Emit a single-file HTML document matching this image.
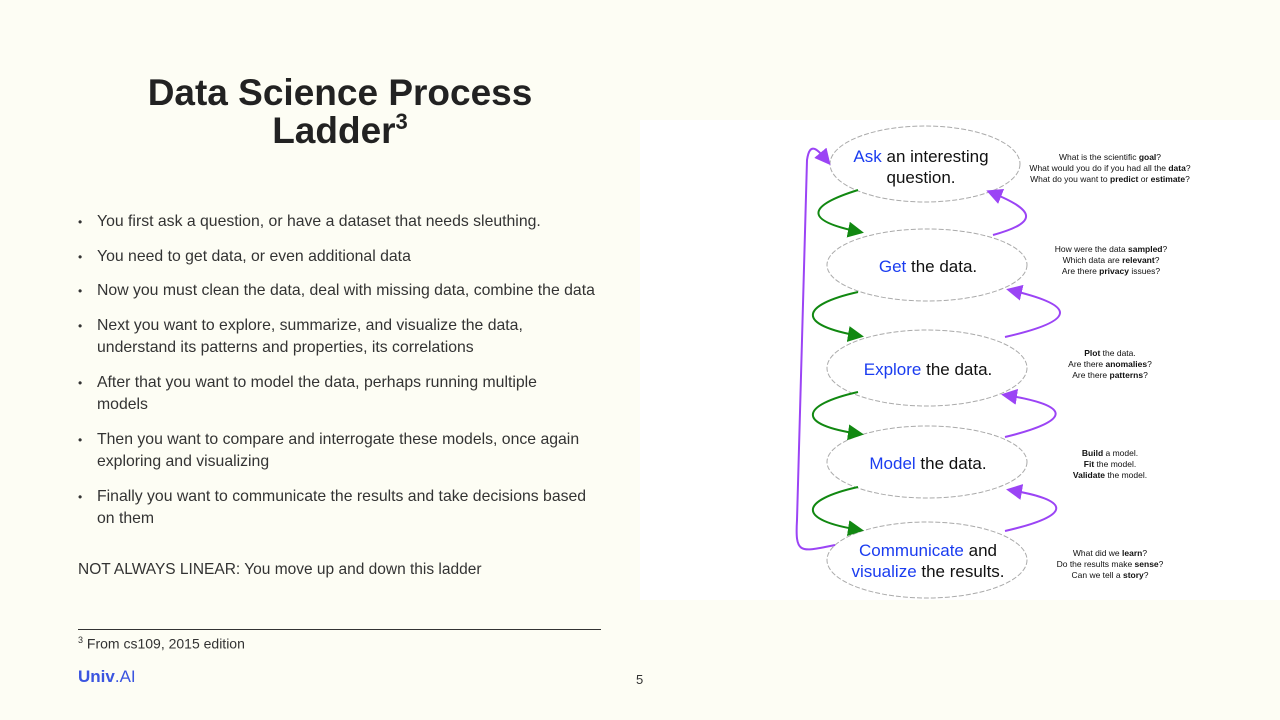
<!DOCTYPE html>
<html><head><style>
body{margin:0;width:1280px;height:720px;background:#fdfdf4;font-family:"Liberation Sans",sans-serif;position:relative;overflow:hidden;color:#333}
h1{position:absolute;left:100px;top:74px;width:480px;margin:0;text-align:center;font-size:37px;line-height:38px;font-weight:bold;color:#222}
h1 sup{font-size:22px;vertical-align:14px;line-height:0}
ul{position:absolute;left:78px;top:211px;width:526px;margin:0;padding:0;list-style:none;font-size:15.8px;line-height:22.5px;color:#333}
li{position:relative;padding-left:19px;margin-bottom:12px}
li:before{content:"•";position:absolute;left:0;font-size:12px}
.na{position:absolute;left:78px;top:561px;font-size:15.5px;color:#333}
.rule{position:absolute;left:78px;top:629px;width:523px;border-top:1px solid #333}
.fn{position:absolute;left:78px;top:635px;font-size:14px}
.fn sup{font-size:9px}
.logo{position:absolute;left:78px;top:667px;font-size:17px;font-weight:bold;color:#3b55e0}
.logo span{font-weight:normal}
.pg{position:absolute;left:636px;top:672px;font-size:13px}
.img{position:absolute;left:640px;top:120px;width:640px;height:480px;background:#fff}
</style></head><body>
<h1>Data Science Process Ladder<sup>3</sup></h1>
<ul>
<li>You first ask a question, or have a dataset that needs sleuthing.</li>
<li>You need to get data, or even additional data</li>
<li>Now you must clean the data, deal with missing data, combine the data</li>
<li>Next you want to explore, summarize, and visualize the data,<br>understand its patterns and properties, its correlations</li>
<li>After that you want to model the data, perhaps running multiple<br>models</li>
<li>Then you want to compare and interrogate these models, once again exploring and visualizing</li>
<li>Finally you want to communicate the results and take decisions based on them</li>
</ul>
<div class="na">NOT ALWAYS LINEAR: You move up and down this ladder</div>
<div class="rule"></div>
<div class="fn"><sup>3</sup> From cs109, 2015 edition</div>
<div class="logo">Univ<span>.AI</span></div>
<div class="pg">5</div>
<div class="img"></div>
<svg style="position:absolute;left:0;top:0" width="1280" height="720" font-family="Liberation Sans, sans-serif">
<defs>
<marker id="g" markerWidth="8" markerHeight="8" refX="6" refY="4" orient="auto"><path d="M0,0 L8,4 L0,8 z" fill="#118811"/></marker>
<marker id="p" markerWidth="8" markerHeight="8" refX="6" refY="4" orient="auto"><path d="M0,0 L8,4 L0,8 z" fill="#9b44f5"/></marker>
</defs>
<g fill="#fff" stroke="#aaa" stroke-width="1" stroke-dasharray="5,2">
<ellipse cx="925" cy="164" rx="95" ry="38"/>
<ellipse cx="927" cy="265" rx="100" ry="36"/>
<ellipse cx="927" cy="368" rx="100" ry="38"/>
<ellipse cx="927" cy="462" rx="100" ry="36"/>
<ellipse cx="927" cy="560" rx="100" ry="38"/>
</g>
<g fill="none" stroke="#118811" stroke-width="2" marker-end="url(#g)">
<path d="M858,190 C810,205 800,220 860,232"/>
<path d="M858,292 C800,305 795,325 860,336"/>
<path d="M858,392 C800,405 795,425 860,434"/>
<path d="M858,487 C800,500 795,520 860,530"/>
</g>
<g fill="none" stroke="#9b44f5" stroke-width="2" marker-end="url(#p)">
<path d="M993,235 C1040,222 1035,210 990,192"/>
<path d="M1005,337 C1080,320 1075,305 1010,290"/>
<path d="M1005,437 C1075,420 1070,405 1005,395"/>
<path d="M1005,531 C1075,515 1070,500 1010,490"/>
<path d="M835,545 C800,552 795,555 797,520 L807,160 C810,140 818,150 828,162"/>
</g>
<g font-size="17" fill="#111" text-anchor="middle">
<text x="921" y="162"><tspan fill="#1a3cf0">Ask</tspan> an interesting</text>
<text x="921" y="183">question.</text>
<text x="928" y="272"><tspan fill="#1a3cf0">Get</tspan> the data.</text>
<text x="928" y="375"><tspan fill="#1a3cf0">Explore</tspan> the data.</text>
<text x="928" y="469"><tspan fill="#1a3cf0">Model</tspan> the data.</text>
<text x="928" y="556"><tspan fill="#1a3cf0">Communicate</tspan> and</text>
<text x="928" y="577"><tspan fill="#1a3cf0">visualize</tspan> the results.</text>
</g>
<g font-size="8.5" fill="#111" text-anchor="middle">
<text x="1110" y="160">What is the scientific <tspan font-weight="bold">goal</tspan>?</text>
<text x="1110" y="171">What would you do if you had all the <tspan font-weight="bold">data</tspan>?</text>
<text x="1110" y="182">What do you want to <tspan font-weight="bold">predict</tspan> or <tspan font-weight="bold">estimate</tspan>?</text>
<text x="1111" y="252">How were the data <tspan font-weight="bold">sampled</tspan>?</text>
<text x="1111" y="263">Which data are <tspan font-weight="bold">relevant</tspan>?</text>
<text x="1111" y="274">Are there <tspan font-weight="bold">privacy</tspan> issues?</text>
<text x="1110" y="356"><tspan font-weight="bold">Plot</tspan> the data.</text>
<text x="1110" y="367">Are there <tspan font-weight="bold">anomalies</tspan>?</text>
<text x="1110" y="378">Are there <tspan font-weight="bold">patterns</tspan>?</text>
<text x="1110" y="456"><tspan font-weight="bold">Build</tspan> a model.</text>
<text x="1110" y="467"><tspan font-weight="bold">Fit</tspan> the model.</text>
<text x="1110" y="478"><tspan font-weight="bold">Validate</tspan> the model.</text>
<text x="1110" y="556">What did we <tspan font-weight="bold">learn</tspan>?</text>
<text x="1110" y="567">Do the results make <tspan font-weight="bold">sense</tspan>?</text>
<text x="1110" y="578">Can we tell a <tspan font-weight="bold">story</tspan>?</text>
</g>
</svg>
</body></html>
